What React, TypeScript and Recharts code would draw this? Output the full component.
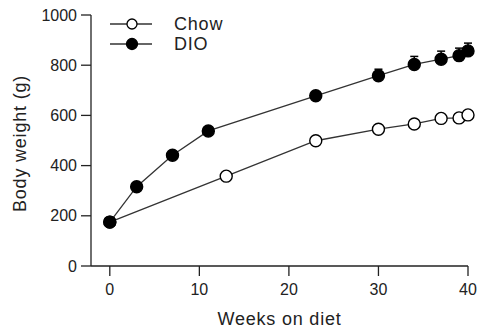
import React from 'react';
import { LineChart, Line, XAxis, YAxis, Legend, ErrorBar } from 'recharts';

const chowWeeks = [0, 13, 23, 30, 34, 37, 39, 40];
const chowWeight = [175, 358, 499, 545, 566, 588, 590, 602];

const dioWeeks = [0, 3, 7, 11, 23, 30, 34, 37, 39, 40];
const dioWeight = [175, 316, 441, 538, 678, 758, 803, 824, 838, 857];
const dioSem = [6, 8, 10, 12, 16, 26, 32, 32, 30, 31];

const xTicks = [0, 10, 20, 30, 40];
const yTicks = [0, 200, 400, 600, 800, 1000];

const chowData = chowWeeks.map((week, i) => ({ week, w: chowWeight[i] }));
const dioData = dioWeeks.map((week, i) => ({ week, w: dioWeight[i], err: [0, dioSem[i]] }));

const FONT = '"Liberation Sans", Arial, sans-serif';
const INK = '#222';

const legendItems = [
  { name: 'Chow', fill: '#fff', r: 5 },
  { name: 'DIO', fill: '#000', r: 5.5 },
];

const LegendContent = () => (
  <div style={{ fontFamily: FONT }}>
    {legendItems.map((it) => (
      <div key={it.name} style={{ display: 'flex', alignItems: 'center', height: 20 }}>
        <svg width={42} height={20} style={{ display: 'block' }}>
          <line x1={0} y1={10} x2={42} y2={10} stroke="#333" strokeWidth={1.3} />
          <circle cx={22} cy={10} r={it.r} fill={it.fill} stroke="#000" strokeWidth={1.3} />
        </svg>
        <span style={{ marginLeft: 22, fontSize: 18, letterSpacing: 0.8, color: INK, lineHeight: '20px' }}>{it.name}</span>
      </div>
    ))}
  </div>
);

const YLabel = (props: any) => {
  const vb = props.viewBox || {};
  const cx = vb.x + 9;
  const cy = vb.y + vb.height / 2 + 3;
  return (
    <text
      x={cx}
      y={cy}
      transform={`rotate(-90 ${cx} ${cy})`}
      textAnchor="middle"
      dominantBaseline="central"
      fontSize={18}
      letterSpacing={0.8}
      fill={INK}
      fontFamily={FONT}
    >
      Body weight (g)
    </text>
  );
};

const XLabel = (props: any) => {
  const vb = props.viewBox || {};
  const cx = vb.x + vb.width / 2;
  const y = vb.y + 59;
  return (
    <text x={cx} y={y} textAnchor="middle" fontSize={18} letterSpacing={0.8} fill={INK} fontFamily={FONT}>
      Weeks on diet
    </text>
  );
};

export default function App() {
  return (
    <div style={{ position: 'absolute', left: 0, top: 0, width: 479, height: 336, background: '#fff' }}>
      <LineChart width={479} height={336} margin={{ top: 15, right: 11, bottom: 10, left: 11 }}>
        <XAxis
          type="number"
          dataKey="week"
          domain={[-2.1, 40]}
          ticks={xTicks}
          height={60}
          tickSize={10}
          tickMargin={8}
          axisLine={{ stroke: INK, strokeWidth: 1.3 }}
          tickLine={{ stroke: INK, strokeWidth: 1.3 }}
          tick={{ fill: INK, fontSize: 16, fontFamily: FONT }}
          label={<XLabel />}
        />
        <YAxis
          type="number"
          domain={[0, 1000]}
          ticks={yTicks}
          width={80}
          tickSize={10}
          tickMargin={4}
          axisLine={{ stroke: INK, strokeWidth: 1.3 }}
          tickLine={{ stroke: INK, strokeWidth: 1.3 }}
          tick={{ fill: INK, fontSize: 16, fontFamily: FONT }}
          label={<YLabel />}
        />
        <Legend
          layout="vertical"
          verticalAlign="middle"
          align="center"
          content={<LegendContent />}
          wrapperStyle={{ left: 110, top: 14, width: 120 }}
        />
        <Line
          data={chowData}
          dataKey="w"
          name="Chow"
          stroke="#333"
          strokeWidth={1.3}
          dot={{ r: 6, fill: '#fff', stroke: '#000', strokeWidth: 1.4 }}
          isAnimationActive={false}
        />
        <Line
          data={dioData}
          dataKey="w"
          name="DIO"
          stroke="#333"
          strokeWidth={1.3}
          dot={{ r: 6, fill: '#000', stroke: '#000', strokeWidth: 1.4 }}
          isAnimationActive={false}
        >
          <ErrorBar dataKey="err" width={4} stroke="#000" strokeWidth={1.5} direction="y" />
        </Line>
      </LineChart>
    </div>
  );
}
